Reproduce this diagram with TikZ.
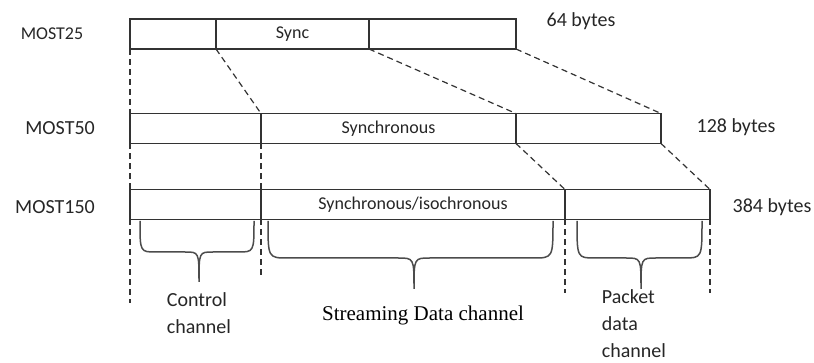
\documentclass[tikz,border=0pt]{standalone}
\usepackage{fontspec}
\setmainfont{Carlito}
\newfontfamily\timesfont{Liberation Serif}
\usetikzlibrary{positioning}

\begin{document}
\begin{tikzpicture}[
    x=1pt,y=-1pt,
    seg/.style={draw=black!80, line width=1.2pt, minimum height=30pt, inner sep=0pt, outer sep=0pt, font=\fontsize{18}{20}\selectfont, text=black!85},
    dashline/.style={draw=black!80, line width=1.2pt, dash pattern=on 6pt off 4pt},
    brace/.style={draw=black!70, line width=1.5pt},
    lbl/.style={font=\fontsize{20}{27}\selectfont, text=black!85, inner sep=0pt}
    ]
    \useasboundingbox (0,0) rectangle (814,363);
    % frame rows
    \node[seg, anchor=north west, minimum width=86pt] (s25a) at (130,19) {};
    \node[seg, minimum width=153pt, right=0pt of s25a] (s25b) {Sync};
    \node[seg, minimum width=147pt, right=0pt of s25b] (s25c) {};
    \node[seg, anchor=north west, minimum width=131pt] (s50a) at (130,113.5) {};
    \node[seg, minimum width=255pt, right=0pt of s50a] (s50b) {Synchronous};
    \node[seg, minimum width=145pt, right=0pt of s50b] (s50c) {};
    \node[seg, anchor=north west, minimum width=131pt] (s150a) at (130,189.5) {};
    \node[seg, minimum width=304pt, right=0pt of s150a] (s150b) {Synchronous/isochronous};
    \node[seg, minimum width=145pt, right=0pt of s150b] (s150c) {};
    % row names and sizes
    \node[lbl, font=\fontsize{18}{20}\selectfont] (m25) at (52,34) {MOST25};
    \node[lbl, anchor=east] (m50) at (95,128) {MOST50};
    \node[lbl, anchor=east] (m150) at (95,207) {MOST150};
    \node[lbl] (b25) at (581,21) {64 bytes};
    \node[lbl] (b50) at (736,127) {128 bytes};
    \node[lbl] (b150) at (772,207) {384 bytes};
    % dashed mapping lines
    \draw[dashline] (s25a.south west) -- (s50a.north west);
    \draw[dashline] (s25b.south west) -- (s50b.north west);
    \draw[dashline] (s25c.south west) -- (s50c.north west);
    \draw[dashline] (s25c.south east) -- (s50c.north east);
    \draw[dashline] (s50a.south west) -- (s150a.north west);
    \draw[dashline] (s50b.south west) -- (s150b.north west);
    \draw[dashline] (s50c.south west) -- (s150c.north west);
    \draw[dashline] (s50c.south east) -- (s150c.north east);
    \coordinate (e1) at (130,303);
    \coordinate (e2) at (261,278);
    \coordinate (e3) at (565,293);
    \coordinate (e4) at (710,293);
    \draw[dashline] (s150a.south west) -- (e1);
    \draw[dashline] (s150b.south west) -- (e2);
    \draw[dashline] (s150c.south west) -- (e3);
    \draw[dashline] (s150c.south east) -- (e4);
    % braces
    \draw[brace] (140,221) .. controls (140,252) .. (156,252) -- (185,252)
      .. controls (199,252) .. (199,282) .. controls (199,252) .. (213,252)
      -- (238,252) .. controls (254,252) .. (254,221);
    \draw[brace] (268,221) .. controls (268,258) .. (288,258) -- (398,258)
      .. controls (414,258) .. (414,289) .. controls (414,258) .. (430,258)
      -- (533,258) .. controls (553,258) .. (553,221);
    \draw[brace] (577,221) .. controls (577,258) .. (595,258) -- (626,258)
      .. controls (641,258) .. (641,289) .. controls (641,258) .. (656,258)
      -- (684,258) .. controls (702,258) .. (702,221);
    % channel names
    \node[lbl, align=left] (ctrl) at (199,313) {Control\\channel};
    \node[lbl, font=\timesfont\fontsize{21}{24}\selectfont, text=black] (strm) at (423,315) {Streaming Data channel};
    \node[lbl, align=left] (pkt) at (634,324) {Packet\\data\\channel};
\end{tikzpicture}
\end{document}
